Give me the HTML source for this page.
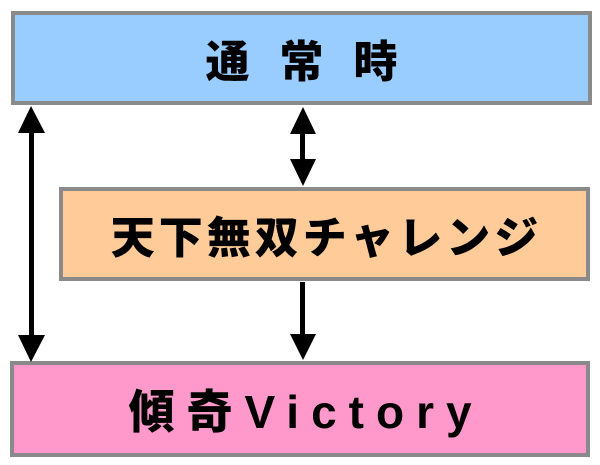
<!DOCTYPE html>
<html><head><meta charset="utf-8"><style>
html,body{margin:0;padding:0;background:#fff;width:600px;height:465px;overflow:hidden}
.b{position:absolute;box-sizing:border-box;border:4px solid #8a8a8a;display:flex;align-items:center;justify-content:center;font-family:"Liberation Sans","Noto Sans CJK JP",sans-serif;font-weight:900;font-size:44px;color:#000;white-space:nowrap}
</style></head><body>
<div class="b" style="left:11px;top:11px;width:581px;height:94px;background:#99ccff;letter-spacing:30px;padding-left:30px">通常時</div>
<div class="b" style="left:59px;top:187px;width:531px;height:94px;background:#ffcc99;letter-spacing:4px;padding-left:4px">天下無双チャレンジ</div>
<div class="b" style="left:10px;top:361px;width:580px;height:96px;background:#ff99cc;letter-spacing:12px;padding-left:12px;font-size:46px">傾奇Victory</div>
<svg style="position:absolute;left:0;top:0" width="600" height="465">
<g fill="#000">
<rect x="29" y="128" width="5" height="210"/>
<polygon points="31,106 18,133 45,133"/>
<polygon points="31,362 18,335 45,335"/>
<rect x="300" y="130" width="5" height="35"/>
<polygon points="303,107 290,134 316,134"/>
<polygon points="303,186 290,159 316,159"/>
<rect x="300" y="282" width="5" height="58"/>
<polygon points="303,360 290,334 316,334"/>
</g></svg>
</body></html>
